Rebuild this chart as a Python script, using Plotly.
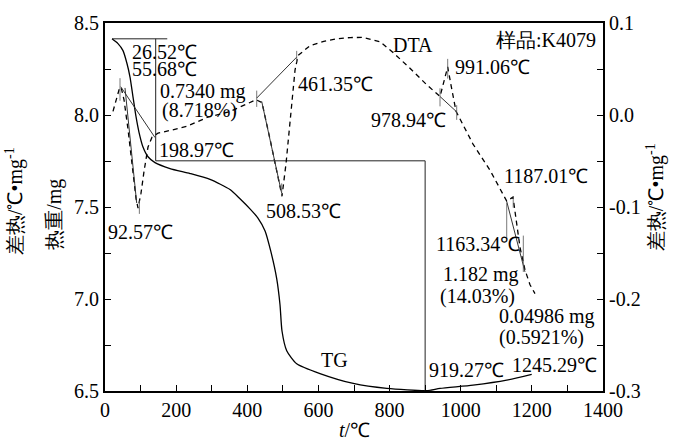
import plotly.graph_objects as go

# ---------------- data ----------------
tg_t = [19.7, 36.5, 50.6, 61.8, 70.3, 78.7, 87.1, 95.6, 106.8, 120.9, 140.6, 182.7, 239, 295.2,
        351.4, 379.5, 407.6, 430, 450, 466, 482.7, 492, 497.6, 510.8, 538.9, 604.4, 698, 792,
        904, 941.8, 1034.6, 1129.3, 1199.6]
tg_mass = [8.414, 8.388, 8.35, 8.28, 8.206, 8.099, 7.992, 7.906, 7.826, 7.773, 7.741, 7.709, 7.682,
           7.65, 7.595, 7.545, 7.49, 7.44, 7.37, 7.26, 7.111, 6.969, 6.826, 6.719, 6.648, 6.595,
           6.541, 6.514, 6.502, 6.514, 6.532, 6.559, 6.591]

dta_t = [22.5, 30.9, 39.4, 45.0, 53.4, 64.7, 73.1, 81.5, 87.1, 92.8, 101.2, 109.6, 120.9, 132.1,
         149.0, 174.3, 230.5, 286.8, 351.4, 424.5, 441.4, 463.9, 486.4, 497.6, 508.9, 523,
         534.2, 542.7, 576.4, 615, 652.3, 690, 725.3, 773.1, 809.7, 857.4, 905.2, 941.8, 953,
         963.4, 972.7, 986.8, 1034.6, 1082.4, 1129.3, 1147, 1166.7, 1180.7, 1194.8, 1208.8]
dta_val = [0.004, 0.0166, 0.0273, 0.0305, 0.0166, -0.0155, -0.0422, -0.069, -0.0904, -0.1011,
           -0.085, -0.0615, -0.0348, -0.0241, -0.0198, -0.0176, -0.0123, -0.0027, 0.0037,
           0.0166, 0.0134, -0.0262, -0.069, -0.0882, -0.0529, 0.0005, 0.0487, 0.0647, 0.0754,
           0.0800, 0.0829, 0.0842, 0.0843, 0.0797, 0.0679, 0.0508, 0.0326, 0.0201, 0.038, 0.0522,
           0.0326, 0.0041, -0.0316, -0.0601, -0.0936, -0.0893, -0.1439, -0.1684, -0.1845, -0.1941]

# TG step (mass-loss) construction lines
step_t = [20, 175, None, 142.5, 142.5, 900, 900]
step_m = [8.414, 8.414, None, 8.414, 7.751, 7.751, 6.5]

# DTA tangent (onset) lines
tan_t = [44.1, 140.6, None, 56.2, 89.1, None, 426.5, 538.9, None, 440.5, 496.7, None,
         941.8, 988.7, None, 1129.3, 1180.7]
tan_v = [0.0308, -0.0245, None, 0.0294, -0.0957, None, 0.0184, 0.0629, None, 0.0148, -0.085, None,
         0.0201, 0.0034, None, -0.0939, -0.1706]

# small vertical marker ticks on DTA
mark_t = [42.2, 42.2, None, 96.6, 96.6, None, 426.5, 426.5, None, 538.9, 538.9, None,
          496.7, 496.7, None, 941.8, 941.8, None, 988.7, 988.7, None, 963.4, 963.4, None,
          1129.3, 1129.3, None, 1176, 1176, None, 1147.6, 1147.6]
mark_v = [0.04, 0.0155, None, -0.093, -0.1075, None, 0.0265, 0.0088, None, 0.0697, 0.0572, None,
          -0.0743, -0.0886, None, 0.029, 0.0094, None, 0.0107, -0.0053, None, 0.061, 0.0396, None,
          -0.0957, -0.1350, None, -0.1311, -0.1706, None, -0.0882, -0.1007]

x_ticks = [0, 200, 400, 600, 800, 1000, 1200, 1400]
y1_ticks = [6.5, 7.0, 7.5, 8.0, 8.5]
y1_labels = ["6.5", "7.0", "7.5", "8.0", "8.5"]
y2_ticks = [-0.3, -0.2, -0.1, 0.0, 0.1]
y2_labels = ["-0.3", "-0.2", "-0.1", "0.0", "0.1"]

# ---------------- figure ----------------
W, H = 676, 442
L, R, T, B = 105, 73, 17, 51
PW, PH = W - L - R, H - T - B
FONT = "Liberation Serif"
FS = 20


def px(xp, yp):
    return (xp - L) / PW, (H - B - yp) / PH


fig = go.Figure()
fig.add_trace(go.Scatter(x=tg_t, y=tg_mass, mode="lines", line=dict(color="black", width=1.3),
                         line_shape="spline", line_smoothing=0.6, showlegend=False))
fig.add_trace(go.Scatter(x=step_t, y=step_m, mode="lines", line=dict(color="#222", width=1),
                         showlegend=False))
fig.add_trace(go.Scatter(x=dta_t, y=dta_val, yaxis="y2", mode="lines",
                         line=dict(color="black", width=1.3, dash="5px,4px"),
                         showlegend=False))
fig.add_trace(go.Scatter(x=tan_t, y=tan_v, yaxis="y2", mode="lines",
                         line=dict(color="#333", width=1), showlegend=False))
fig.add_trace(go.Scatter(x=mark_t, y=mark_v, yaxis="y2", mode="lines",
                         line=dict(color="#555", width=0.8), showlegend=False))

labels = [
    ("26.52℃", 130, 46, "left"),
    ("55.68℃", 130, 64, "left"),
    ("0.7340 mg", 158, 87, "left"),
    ("(8.718%)", 160, 106, "left"),
    ("198.97℃", 157, 146, "left"),
    ("92.57℃", 106, 229, "left"),
    ("461.35℃", 296, 79, "left"),
    ("508.53℃", 264, 208, "left"),
    ("DTA", 391, 39, "left"),
    ("978.94℃", 369, 116, "left"),
    ("991.06℃", 453, 62, "left"),
    ("样品:K4079", 598, 34, "right"),
    ("1187.01℃", 502, 172, "left"),
    ("1163.34℃", 522, 242, "right"),
    ("1.182 mg", 441, 273, "left"),
    ("(14.03%)", 438, 295, "left"),
    ("0.04986 mg", 497, 315, "left"),
    ("(0.5921%)", 497, 337, "left"),
    ("1245.29℃", 510, 365, "left"),
    ("919.27℃", 427, 370, "left"),
    ("TG", 319, 360, "left"),
]
ann = []
for txt, xp, yp, anc in labels:
    xx, yy = px(xp, yp)
    ann.append(dict(text=txt, x=xx, y=yy, xref="paper", yref="paper", xanchor=anc,
                    yanchor="middle", showarrow=False, font=dict(family=FONT, size=FS, color="black")))

for txt, xp, yp in [("热重/mg", 55, 212), ("差热/℃•mg<sup>-1</sup>", 14, 198),
                    ("差热/℃•mg<sup>-1</sup>", 655, 194)]:
    xx, yy = px(xp, yp)
    ann.append(dict(text=txt, x=xx, y=yy, xref="paper", yref="paper", xanchor="center",
                    yanchor="middle", textangle=-90, showarrow=False,
                    font=dict(family=FONT, size=FS, color="black")))

xx, yy = px(354, 431)
ann.append(dict(text="<i>t</i>/℃", x=xx, y=yy, xref="paper", yref="paper", xanchor="center",
                yanchor="middle", showarrow=False, font=dict(family=FONT, size=FS, color="black")))

axis_common = dict(showline=True, linecolor="black", linewidth=2, ticks="inside", ticklen=6,
                   tickwidth=1, tickcolor="black", showgrid=False, zeroline=False,
                   tickfont=dict(family=FONT, size=FS, color="black"))

fig.update_layout(
    width=W, height=H, margin=dict(l=L, r=R, t=T, b=B),
    paper_bgcolor="white", plot_bgcolor="white",
    font=dict(family=FONT, size=FS, color="black"),
    xaxis=dict(range=[0, 1400], tickvals=x_ticks, mirror=True,
               minor=dict(ticks="inside", ticklen=6, dtick=100, tickcolor="black"), **axis_common),
    yaxis=dict(range=[6.5, 8.5], tickvals=y1_ticks, ticktext=y1_labels,
               minor=dict(ticks="inside", ticklen=6, dtick=0.25, tickcolor="black"), **axis_common),
    yaxis2=dict(range=[-0.3, 0.1], tickvals=y2_ticks, ticktext=y2_labels, overlaying="y",
                side="right", minor=dict(ticks="inside", ticklen=6, dtick=0.05, tickcolor="black"),
                **axis_common),
    annotations=ann,
)
fig.write_html("out.html")
